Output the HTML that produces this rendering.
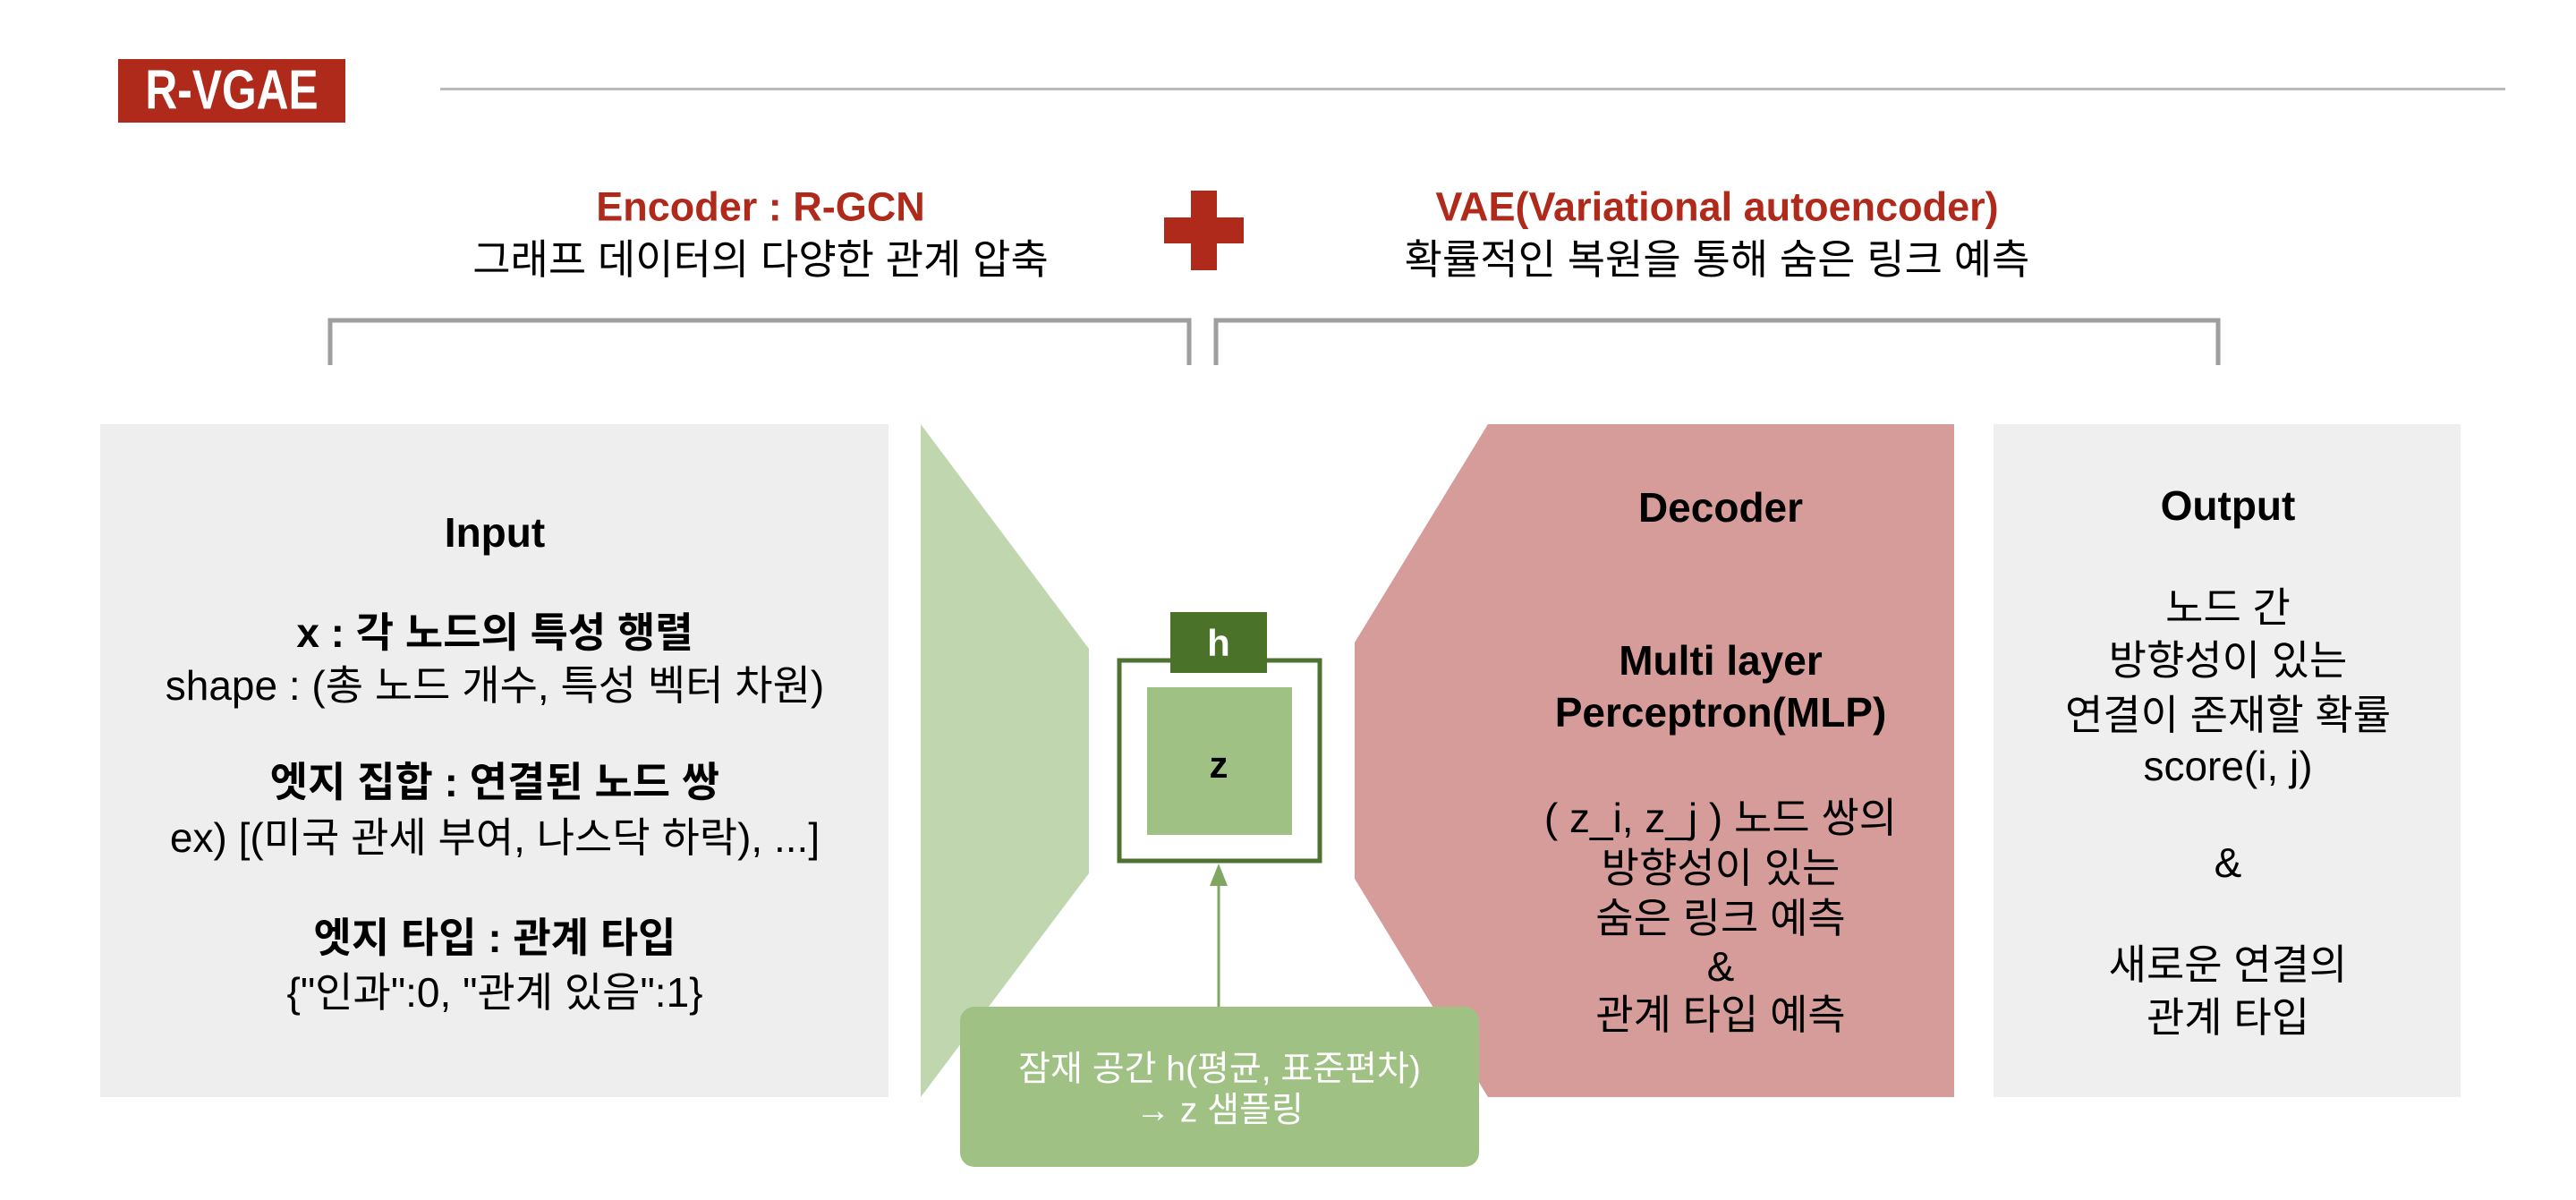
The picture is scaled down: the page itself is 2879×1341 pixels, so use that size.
<!DOCTYPE html>
<html><head><meta charset="utf-8"><style>
*{margin:0;padding:0;box-sizing:border-box}
body{width:2879px;height:1341px;background:#fff;position:relative;overflow:hidden;font-family:"Liberation Sans","Noto Sans CJK KR",sans-serif;color:#000}
.a{position:absolute}
.t{position:absolute;white-space:nowrap;transform:translate(-50%,-50%);font-size:46px;line-height:1}
.b{font-weight:bold}
</style></head><body>
<div class="a" style="left:132px;top:66px;width:254px;height:71px;background:#b02a1c"></div>
<div class="t b" style="left:259px;top:101px;color:#fff;font-size:54px;transform:translate(-50%,-50%) scale(0.92,1.15)">R-VGAE</div>
<div class="a" style="left:492px;top:98px;width:2308px;height:3px;background:#bbb"></div>

<div class="t b" style="left:850px;top:231px;color:#b02a1c;font-size:45px">Encoder : R-GCN</div>
<div class="t" style="left:850px;top:290px">그래프 데이터의 다양한 관계 압축</div>
<div class="t b" style="left:1919px;top:231px;color:#b02a1c;font-size:45px">VAE(Variational autoencoder)</div>
<div class="t" style="left:1919px;top:290px">확률적인 복원을 통해 숨은 링크 예측</div>

<div class="a" style="left:1331px;top:213px;width:29px;height:89px;background:#b02a1c"></div>
<div class="a" style="left:1301px;top:243px;width:89px;height:29px;background:#b02a1c"></div>

<svg class="a" style="left:0;top:0" width="2879" height="1341">
<path d="M369 408 V358 H1329 V408" fill="none" stroke="#9e9e9e" stroke-width="5"/>
<path d="M1359 408 V358 H2479 V408" fill="none" stroke="#9e9e9e" stroke-width="5"/>
<rect x="112" y="474" width="881" height="752" fill="#eeeeee"/>
<rect x="2228" y="474" width="522" height="752" fill="#efefef"/>
<polygon points="1029,474 1217,725 1217,976 1029,1226" fill="#bfd6ae"/>
<polygon points="1663,474 2184,474 2184,1226 1663,1226 1514,982 1514,718" fill="#d69c99"/>
<rect x="1251" y="738" width="224" height="224" fill="#fff" stroke="#4e7330" stroke-width="5"/>
<rect x="1308" y="684" width="108" height="68" fill="#4a7329"/>
<rect x="1282" y="768" width="162" height="165" fill="#a0c184"/>
<line x1="1362" y1="1126" x2="1362" y2="985" stroke="#7fa763" stroke-width="3"/>
<polygon points="1362,965 1352,990 1372,990" fill="#7fa763"/>
<rect x="1073" y="1125" width="580" height="179" rx="16" fill="#a0c184"/>
</svg>
<div class="t b" style="left:1362px;top:719px;color:#fff;font-size:42px">h</div>
<div class="t b" style="left:1362px;top:855px;font-size:42px">z</div>
<div class="t" style="left:1363px;top:1195px;color:#fff;font-size:39px">잠재 공간 h(평균, 표준편차)</div>
<div class="t" style="left:1363px;top:1241px;color:#fff;font-size:39px">→ z 샘플링</div>

<div class="t b" style="left:553px;top:595px">Input</div>
<div class="t b" style="left:553px;top:707px">x : 각 노드의 특성 행렬</div>
<div class="t" style="left:553px;top:766px">shape : (총 노드 개수, 특성 벡터 차원)</div>
<div class="t b" style="left:553px;top:874px">엣지 집합 : 연결된 노드 쌍</div>
<div class="t" style="left:553px;top:936px">ex) [(미국 관세 부여, 나스닥 하락), ...]</div>
<div class="t b" style="left:553px;top:1048px">엣지 타입 : 관계 타입</div>
<div class="t" style="left:553px;top:1109px">{"인과":0, "관계 있음":1}</div>

<div class="t b" style="left:1923px;top:567px">Decoder</div>
<div class="t b" style="left:1923px;top:738px">Multi layer</div>
<div class="t b" style="left:1923px;top:796px">Perceptron(MLP)</div>
<div class="t" style="left:1923px;top:914px">( z_i, z_j ) 노드 쌍의</div>
<div class="t" style="left:1923px;top:970px">방향성이 있는</div>
<div class="t" style="left:1923px;top:1026px">숨은 링크 예측</div>
<div class="t" style="left:1923px;top:1080px">&amp;</div>
<div class="t" style="left:1923px;top:1134px">관계 타입 예측</div>

<div class="t b" style="left:2490px;top:565px">Output</div>
<div class="t" style="left:2490px;top:679px">노드 간</div>
<div class="t" style="left:2490px;top:738px">방향성이 있는</div>
<div class="t" style="left:2490px;top:799px">연결이 존재할 확률</div>
<div class="t" style="left:2490px;top:856px">score(i, j)</div>
<div class="t" style="left:2490px;top:964px">&amp;</div>
<div class="t" style="left:2490px;top:1078px">새로운 연결의</div>
<div class="t" style="left:2490px;top:1137px">관계 타입</div>
</body></html>
